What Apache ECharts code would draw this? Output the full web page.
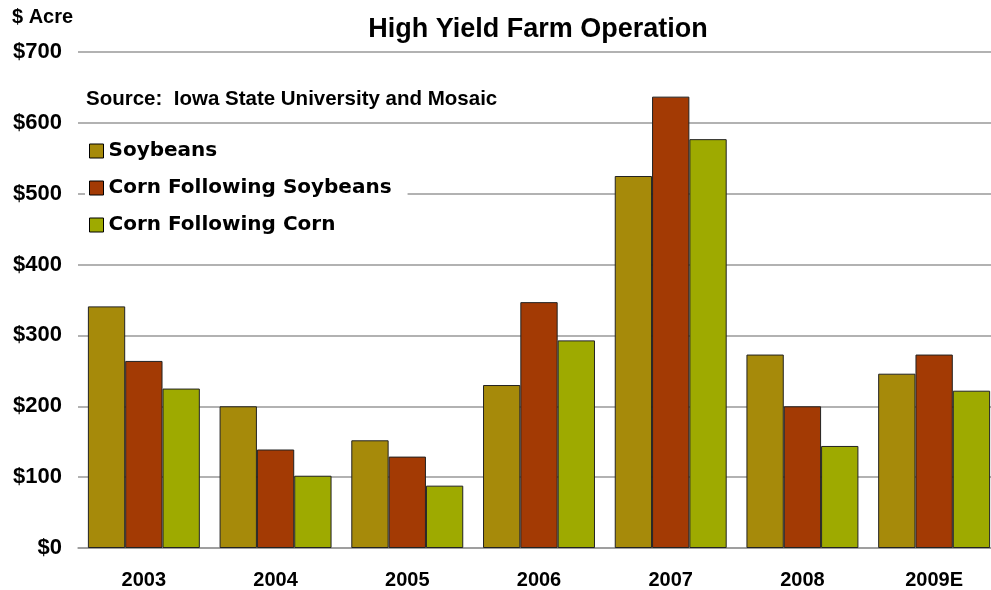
<!DOCTYPE html>
<html>
<head>
<meta charset="utf-8">
<script src="https://cdn.jsdelivr.net/npm/echarts@6/dist/echarts.min.js"></script>
<style>
html,body{margin:0;padding:0;background:#fff;overflow:hidden;}
#chart{width:1000px;height:590px;}
</style>
</head>
<body>
<div id="chart"></div>
<script>
var categories = ['2003', '2004', '2005', '2006', '2007', '2008', '2009E'];
var seriesNames = ['Soybeans', 'Corn Following Soybeans', 'Corn Following Corn'];
var soybeans = [341, 200, 152, 230, 525, 273, 246];
var cornFollowingSoybeans = [264, 139, 129, 347, 637, 200, 273];
var cornFollowingCorn = [225, 102, 88, 293, 577, 144, 222];
var yTicks = [0, 100, 200, 300, 400, 500, 600, 700];
var titleText = 'High Yield Farm Operation';
var topLineText = 'Returns on Variable Costs: Central Midwest';
var sourceText = 'Source:  Iowa State University and Mosaic';
var unitText = '$ Acre';

var colors = ['#A68A0A', '#A33A04', '#9EAA00'];
var font = 'Liberation Sans, Arial, sans-serif';

var chart = echarts.init(document.getElementById('chart'));
var dataSets = [soybeans, cornFollowingSoybeans, cornFollowingCorn];

chart.setOption({
  animation: false,
  backgroundColor: '#fff',
  title: [
    { text: topLineText, left: 533, top: -29, textAlign: 'center',
      textStyle: { fontFamily: font, fontSize: 27, fontWeight: 'bold', color: '#c8c8c8' } },
    { text: titleText, left: 533, top: 11, textAlign: 'center',
      textStyle: { fontFamily: font, fontSize: 27, fontWeight: 'bold', color: '#000' } }
  ],
  graphic: [
    { type: 'text', left: 12, top: 7, z: 10,
      style: { text: unitText, fontFamily: font, fontSize: 20, fontWeight: 'bold', fill: '#000' } },
    { type: 'text', left: 86, top: 89, z: 10,
      style: { text: sourceText, fontFamily: font, fontSize: 20.5, fontWeight: 'bold', fill: '#000' } }
  ],
  legend: {
    orient: 'vertical',
    left: 85,
    top: 133,
    padding: [8, 16, 8, 4],
    backgroundColor: '#fff',
    itemWidth: 14,
    itemHeight: 14,
    itemGap: 17,
    icon: 'rect',
    itemStyle: { borderColor: '#000', borderWidth: 1 },
    textStyle: { fontFamily: 'DejaVu Sans, sans-serif', fontSize: 20, fontWeight: 'bold', color: '#000' },
    data: seriesNames
  },
  grid: { left: 78, right: 0, top: 52, bottom: 41, containLabel: false },
  xAxis: {
    type: 'category',
    data: categories,
    axisTick: { show: false },
    axisLine: { show: true, lineStyle: { color: '#999', width: 1.5 } },
    axisLabel: { margin: 22, fontFamily: font, fontSize: 20, fontWeight: 'bold', color: '#000' }
  },
  yAxis: {
    type: 'value',
    min: yTicks[0],
    max: yTicks[yTicks.length - 1],
    interval: 100,
    axisLine: { show: false },
    axisTick: { show: false },
    splitLine: { lineStyle: { color: '#999', width: 1.5 } },
    axisLabel: {
      margin: 16, fontFamily: font, fontSize: 22, fontWeight: 'bold', color: '#000',
      formatter: function (v) { return '$' + v; }
    }
  },
  series: seriesNames.map(function (name, i) {
    return {
      name: name,
      type: 'bar',
      data: dataSets[i],
      barGap: '0%',
      barCategoryGap: '15%',
      itemStyle: { color: colors[i], borderColor: '#222', borderWidth: 1 },
      z: 2
    };
  })
});
</script>
</body>
</html>
